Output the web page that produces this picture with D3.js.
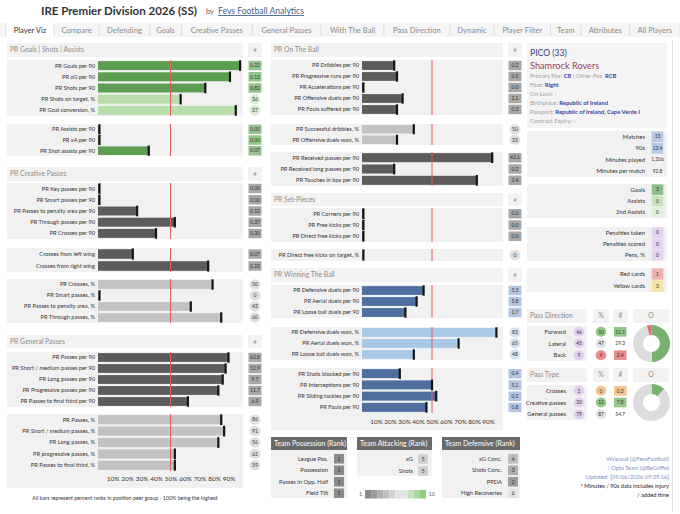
<!DOCTYPE html>
<html>
<head>
<meta charset="utf-8">
<style>
body { margin: 0; background: #fff; }
svg text { font-family: Lato, "Open Sans", sans-serif; }
</style>
</head>
<body>
<svg width="680" height="514"></svg>
<script src="https://cdnjs.cloudflare.com/ajax/libs/d3/7.8.5/d3.min.js"></script>
<script>

// ---- data ----
var tabs = ['Player Viz', 'Compare', 'Defending', 'Goals', 'Creative Passes', 'General Passes',
  'With The Ball', 'Pass Direction', 'Dynamic', 'Player Filter', 'Team', 'Attributes', 'All Players']

var gsaRows1 = ['PR Goals per 90', 'PR xG per 90', 'PR Shots per 90', 'PR Shots on target, %', 'PR Goal conversion, %']
var gsaPR1 = [98, 91, 74, 57, 95]
var gsaVal1 = ['0.22', '0.12', '0.82', '36', '27']
var gsaRows2 = ['PR Assists per 90', 'PR xA per 90', 'PR Shot assists per 90']
var gsaPR2 = [1, 1, 35]
var gsaVal2 = ['0.00', '0.00', '0.07']

var cpRows1 = ['PR Key passes per 90', 'PR Smart passes per 90', 'PR Passes to penalty area per 90', 'PR Through passes per 90', 'PR Crosses per 90']
var cpPR1 = [1, 1, 27, 53, 40]
var cpVal1 = ['0.00', '0.00', '0.52', '0.37', '0.30']
var cpRows2 = ['Crosses from left wing', 'Crosses from right wing']
var cpPR2 = [24, 76]
var cpVal2 = ['0.07', '0.22']
var cpRows3 = ['PR Crosses, %', 'PR Smart passes, %', 'PR Passes to penalty area, %', 'PR Through passes, %']
var cpPR3 = [79, 1, 64, 85]
var cpVal3 = ['50', '0', '43', '60']

var gpRows1 = ['PR Passes per 90', 'PR Short / medium passes per 90', 'PR Long passes per 90', 'PR Progressive passes per 90', 'PR Passes to final third per 90']
var gpPR1 = [90, 88, 86, 83, 62]
var gpVal1 = ['62.8', '52.9', '9.7', '11.7', '6.9']
var gpRows2 = ['PR Passes, %', 'PR Short / medium passes, %', 'PR Long passes, %', 'PR progressive passes, %', 'PR Passes to final third, %']
var gpPR2 = [85, 87, 83, 53, 53]
var gpVal2 = ['86', '91', '56', '62', '59']

var otbRows1 = ['PR Dribbles per 90', 'PR Progressive runs per 90', 'PR Accelerations per 90', 'PR Offensive duels per 90', 'PR Fouls suffered per 90']
var otbPR1 = [23, 25, 1, 29, 25]
var otbVal1 = ['0.2', '0.5', '0.0', '1.1', '0.3']
var otbRows2 = ['PR Successful dribbles, %', 'PR Offensive duels won, %']
var otbPR2 = [37, 25]
var otbVal2 = ['50', '33']
var otbRows3 = ['PR Received passes per 90', 'PR Received long passes per 90', 'PR Touches in box per 90']
var otbPR3 = [93, 23, 82]
var otbVal3 = ['42.1', '0.2', '1.4']

var spRows1 = ['PR Corners per 90', 'PR Free kicks per 90', 'PR Direct free kicks per 90']
var spPR1 = [1, 1, 1]
var spVal1 = ['0.0', '0.0', '0.0']
var spRows2 = ['PR Direct free kicks on target, %']
var spPR2 = [1]
var spVal2 = ['0']

var wtbRows1 = ['PR Defensive duels per 90', 'PR Aerial duels per 90', 'PR Loose ball duels per 90']
var wtbPR1 = [44, 39, 31]
var wtbVal1 = ['5.3', '5.8', '1.7']
var wtbRows2 = ['PR Defensive duels won, %', 'PR Aerial duels won, %', 'PR Loose ball duels won, %']
var wtbPR2 = [96, 69, 37]
var wtbVal2 = ['83', '65', '48']
var wtbRows3 = ['PR Shots blocked per 90', 'PR Interceptions per 90', 'PR Sliding tackles per 90', 'PR Fouls per 90']
var wtbPR3 = [27, 50, 53, 46]
var wtbVal3 = ['0.4', '5.1', '0.2', '0.8']

var axisTicks = [10, 20, 30, 40, 50, 60, 70, 80, 90]

var possLabels = ['League Pos.', 'Possession', 'Passes in Opp. Half', 'Field Tilt']
var possRank = [1, 1, 1, 1]
var attLabels = ['xG', 'Shots']
var attRank = [5, 5]
var defLabels = ['xG Conc.', 'Shots Conc.', 'PPDA', 'High Recoveries']
var defRank = [4, 3, 2, 6]

var statLabels = ['Matches', '90s', 'Minutes played', 'Minutes per match']
var statVals = ['13', '13.4', '1,206', '92.8']
var goalLabels = ['Goals', 'Assists', '2nd Assists']
var goalVals = ['3', '0', '0']
var penLabels = ['Penalties taken', 'Penalties scored', 'Pens, %']
var penVals = ['0', '0', '0']
var cardLabels = ['Red cards', 'Yellow cards']
var cardVals = ['1', '3']

var dirLabels = ['Forward', 'Lateral', 'Back']
var dirCount = [46, 45, 9]
var dirPct = [50, 47, 4]
var dirNum = ['31.1', '29.3', '2.4']
var typeLabels = ['Crosses', 'Creative passes', 'General passes']
var typeCount = [2, 20, 79]
var typePct = [0, 12, 87]
var typeNum = ['0.3', '7.8', '54.7']

// ---- colours ----
var green = { bar: '#5d9d52', barPct: '#b9dcab', val: '#93c58a', valPct: '#d6ebcf' }
var grey = { bar: '#5c5c5c', barPct: '#c2c2c2', val: '#a8a8a8', valPct: '#dfdfdf' }
var blue = { bar: '#4e6ea0', barPct: '#a8c8e8', val: '#b3c5e2', valPct: '#d4e1f2' }
var panelBg = '#f1f1f1'

var svg = d3.select('svg')

function txt(x, y, s, size, fill, anchor, weight) {
  return svg.append('text')
    .attr('x', x).attr('y', y).attr('dy', '0.35em')
    .attr('font-size', size).attr('fill', fill || '#333')
    .attr('text-anchor', anchor || 'start')
    .attr('font-weight', weight || 'normal')
    .text(s)
}

// ---- title + tabs ----
txt(41, 11, 'IRE Premier Division 2026 (SS)', 11.5, '#333', 'start', 'bold')
txt(206, 11.5, 'by', 7.5, '#666')
txt(218, 11, 'Fevs Football Analytics', 8.6, '#3d5f8f').attr('text-decoration', 'underline')

var tabG = svg.append('g')
tabG.append('rect').attr('x', 0).attr('y', 23).attr('width', 680).attr('height', 14).attr('fill', '#f5f5f5')
var tabTexts = tabG.selectAll('text').data(tabs).join('text')
  .attr('font-size', 7.6).attr('dy', '0.35em').attr('y', 30)
  .attr('text-anchor', 'middle')
  .attr('fill', function (d, i) { return i === 0 ? '#333' : '#8a8a8a' })
  .text(function (d) { return d })
var tabW = []
tabTexts.each(function () { tabW.push(this.getComputedTextLength() + 8) })
var tabScale = (680 - 6) / d3.sum(tabW)
var tx = 6
tabTexts.each(function (d, i) {
  var w = tabW[i] * tabScale
  if (i === 0) tabG.insert('rect', 'text').attr('x', tx).attr('y', 23).attr('width', w).attr('height', 15).attr('fill', '#fff')
  tabG.insert('line', 'text').attr('x1', tx + w).attr('x2', tx + w).attr('y1', 24).attr('y2', 36).attr('stroke', '#dcdcdc')
  d3.select(this).attr('x', tx + w / 2)
  tx += w
})
tabG.append('line').attr('x1', 6).attr('x2', 6).attr('y1', 24).attr('y2', 36).attr('stroke', '#dcdcdc')

// ---- bar panels ----
var L = { x0: 7, x1: 243, x: d3.scaleLinear().domain([0, 100]).range([98, 243]), vx: 255 }
var M = { x0: 271, x1: 503, x: d3.scaleLinear().domain([0, 100]).range([362, 502]), vx: 515 }

function header(p, top, bottom, title) {
  svg.append('rect').attr('x', p.x0).attr('y', top).attr('width', p.x1 - p.x0).attr('height', bottom - top).attr('fill', '#f2f2f2')
  txt(p.x0 + 3, (top + bottom) / 2, title, 6.8, '#8c8c8c')
  svg.append('rect').attr('x', p.vx - 7).attr('y', top).attr('width', 14).attr('height', bottom - top).attr('fill', '#f2f2f2')
  txt(p.vx, (top + bottom) / 2, '#', 6, '#999', 'middle')
}

function isPct(label) { return label.indexOf('%') > -1 }

function group(p, top, bottom, rows, pr, vals, pal, rowsBottom) {
  var end = rowsBottom || bottom
  var y = d3.scaleBand().domain(rows).range([top, end]).paddingInner(0.2).paddingOuter(0.1)
  var data = rows.map(function (r, i) { return { label: r, pr: pr[i], val: vals[i] } })
  var g = svg.append('g')
  g.append('rect').attr('x', p.x0).attr('y', top).attr('width', p.x1 - p.x0).attr('height', bottom - top).attr('fill', panelBg)
  g.selectAll('.bar').data(data).join('rect').attr('class', 'bar')
    .attr('x', p.x(0)).attr('y', function (d) { return y(d.label) })
    .attr('width', function (d) { return p.x(d.pr) - p.x(0) })
    .attr('height', y.bandwidth())
    .attr('fill', function (d) { return isPct(d.label) ? pal.barPct : pal.bar })
  g.append('line').attr('x1', p.x(50)).attr('x2', p.x(50)).attr('y1', top).attr('y2', end)
    .attr('stroke', '#e0625f').attr('stroke-width', 1)
  g.selectAll('.end').data(data).join('rect').attr('class', 'end')
    .attr('x', function (d) { return p.x(d.pr) - 1.1 }).attr('y', function (d) { return y(d.label) - 0.8 })
    .attr('width', 2.2).attr('height', y.bandwidth() + 1.6).attr('fill', '#151515')
  g.selectAll('.lab').data(data).join('text').attr('class', 'lab')
    .attr('x', p.x(0) - 3).attr('y', function (d) { return y(d.label) + y.bandwidth() / 2 })
    .attr('dy', '0.35em').attr('text-anchor', 'end').attr('font-size', 5.7).attr('fill', '#333')
    .text(function (d) { return d.label })
  g.selectAll('.vbox').data(data).join('rect').attr('class', 'vbox')
    .attr('x', function (d) { return isPct(d.label) ? p.vx - 5.5 : p.vx - 6.5 })
    .attr('y', function (d) { return y(d.label) + y.bandwidth() / 2 - (isPct(d.label) ? 5 : 4.75) })
    .attr('width', function (d) { return isPct(d.label) ? 11 : 13 })
    .attr('height', function (d) { return isPct(d.label) ? 10 : 9.5 })
    .attr('rx', function (d) { return isPct(d.label) ? 5 : 0.5 })
    .attr('fill', function (d) { return isPct(d.label) ? pal.valPct : pal.val })
  g.selectAll('.vtxt').data(data).join('text').attr('class', 'vtxt')
    .attr('x', p.vx).attr('y', function (d) { return y(d.label) + y.bandwidth() / 2 })
    .attr('dy', '0.35em').attr('text-anchor', 'middle').attr('font-size', 5)
    .attr('fill', '#333').text(function (d) { return d.val })
}

function axis(p, y) {
  svg.append('g').attr('transform', 'translate(0,' + y + ')')
    .call(d3.axisBottom(p.x).tickValues(axisTicks).tickSize(0).tickFormat(function (d) { return d + '%' }))
    .call(function (g) { g.select('.domain').remove() })
    .selectAll('text').attr('font-size', 6.4).attr('fill', '#333').attr('font-family', 'Lato, sans-serif')
}

header(L, 43, 57, 'PR Goals | Shots | Assists')
group(L, 60, 116, gsaRows1, gsaPR1, gsaVal1, green)
group(L, 124, 156, gsaRows2, gsaPR2, gsaVal2, green)

header(L, 167, 181, 'PR Creative Passes')
group(L, 183, 239, cpRows1, cpPR1, cpVal1, grey)
group(L, 248, 272, cpRows2, cpPR2, cpVal2, grey)
group(L, 279, 323, cpRows3, cpPR3, cpVal3, grey)

header(L, 335, 348, 'PR General Passes')
group(L, 352, 407, gpRows1, gpPR1, gpVal1, grey)
group(L, 414, 488, gpRows2, gpPR2, gpVal2, grey, 471)
axis(L, 473.5)
txt(125, 498, 'All bars represent percent ranks in position peer group - 100% being the highest', 5.3, '#333', 'middle')

header(M, 43, 57, 'PR On The Ball')
group(M, 60, 115, otbRows1, otbPR1, otbVal1, grey)
group(M, 124, 145, otbRows2, otbPR2, otbVal2, grey)
group(M, 152, 186, otbRows3, otbPR3, otbVal3, grey)

header(M, 193, 206, 'PR Set-Pieces')
group(M, 208, 242, spRows1, spPR1, spVal1, grey)
group(M, 249, 261, spRows2, spPR2, spVal2, grey)

header(M, 268, 282, 'PR Winning The Ball')
group(M, 285, 318, wtbRows1, wtbPR1, wtbVal1, blue)
group(M, 327, 360, wtbRows2, wtbPR2, wtbVal2, blue)
group(M, 368, 430, wtbRows3, wtbPR3, wtbVal3, blue, 413)
axis(M, 416.5)

// ---- team ranks ----
var rankColor = d3.scaleLinear().domain([1, 6.5, 10]).range(['#8a8a8a', '#ececec', '#8fcd80'])

function rankBox(x0, x1, bodyBottom, title, labels, ranks, labelX, boxX) {
  svg.append('rect').attr('x', x0).attr('y', 437).attr('width', x1 - x0).attr('height', 13).attr('fill', '#6a6a6a')
  txt(x0 + 3, 443.5, title, 7, '#fff')
  svg.append('rect').attr('x', x0).attr('y', 450).attr('width', x1 - x0).attr('height', bodyBottom - 450).attr('fill', panelBg)
  var y = d3.scaleBand().domain(labels).range([453, bodyBottom + 1])
  labels.forEach(function (l, i) {
    var cy = y(l) + y.bandwidth() / 2
    txt(labelX, cy, l, 5.8, '#333', 'end')
    svg.append('rect').attr('x', boxX - 5).attr('y', cy - 4.8).attr('width', 10).attr('height', 9.6).attr('fill', rankColor(ranks[i]))
    txt(boxX, cy, ranks[i], 5.5, '#333', 'middle')
  })
}
rankBox(271, 347, 498, 'Team Possession (Rank)', possLabels, possRank, 328, 339)
rankBox(357, 432, 476, 'Team Attacking (Rank)', attLabels, attRank, 413, 423)
rankBox(442, 520, 498, 'Team Defensive (Rank)', defLabels, defRank, 502, 513)

var legendSteps = d3.range(1, 11)
var lx = d3.scaleBand().domain(legendSteps).range([365, 426])
svg.selectAll('.leg').data(legendSteps).join('rect').attr('class', 'leg')
  .attr('x', function (d) { return lx(d) }).attr('y', 490).attr('width', lx.bandwidth()).attr('height', 8.5)
  .attr('fill', function (d) { return rankColor(d) })
txt(360.5, 494, '1', 5.5, '#666', 'middle')
txt(428.5, 494, '10', 5.5, '#666', 'start')

// ---- right: profile ----
svg.append('rect').attr('x', 527).attr('y', 43).attr('width', 140).attr('height', 85).attr('fill', '#f4f4f4')
txt(530, 53, 'PICO (33)', 8.6, '#34407d')
txt(530, 65.3, 'Shamrock Rovers', 9.2, '#a0405c')
var profile = [
  [['Primary Pos: ', 'CB'], [' | ', null], ['Other Pos: ', 'RCB']],
  [['Foot: ', 'Right']],
  [['On Loan: ', '-']],
  [['Birthplace: ', 'Republic of Ireland']],
  [['Passport: ', 'Republic of Ireland, Cape Verde I']],
  [['Contract Expiry: ', '-']]
]
var profY = d3.scalePoint().domain(d3.range(profile.length)).range([75.7, 121.3])
profile.forEach(function (line, i) {
  var t = txt(530, profY(i), '', 5.9, '#a3a3a3')
  line.forEach(function (part) {
    t.append('tspan').attr('fill', '#a3a3a3').text(part[0])
    if (part[1]) t.append('tspan').attr('fill', part[1] === '-' ? '#888' : '#3c43a3').attr('font-weight', part[1] === '-' ? 'normal' : 'bold').text(part[1])
  })
})

function statBlock(top, bottom, labels, vals, colors) {
  svg.append('rect').attr('x', 527).attr('y', top).attr('width', 140).attr('height', bottom - top).attr('fill', panelBg)
  var y = d3.scaleBand().domain(labels).range([top, bottom])
  labels.forEach(function (l, i) {
    var cy = y(l) + y.bandwidth() / 2
    txt(645, cy, l, 5.9, '#333', 'end')
    if (colors[i]) svg.append('rect').attr('x', 651.7).attr('y', y(l) + 0.4).attr('width', 11.6).attr('height', y.bandwidth() - 0.8).attr('fill', colors[i])
    txt(657.5, cy, vals[i], 4.9, '#333', 'middle')
  })
}
statBlock(131, 177, statLabels, statVals, ['#b7c8e0', '#b7c8e0', null, null])
statBlock(184, 218, goalLabels, goalVals, ['#8cbb8a', '#c6e3bc', '#e0f0d9'])
statBlock(227, 261, penLabels, penVals, ['#e4d4ee', '#e4d4ee', '#e4d4ee'])
statBlock(268, 292, cardLabels, cardVals, ['#efb1b1', '#f6e4a2'])

// ---- right: pass direction / type ----
function passBlock(hTop, title, labels, count, pct, num, pctColors, sliceColors) {
  var hB = hTop + 14
  ;[[527, 587, title, 'start'], [593, 609, '%', 'middle'], [613, 628, '#', 'middle'], [633, 669, 'O', 'middle']].forEach(function (h) {
    svg.append('rect').attr('x', h[0]).attr('y', hTop).attr('width', h[1] - h[0]).attr('height', 14).attr('fill', '#f2f2f2')
    txt(h[3] === 'start' ? h[0] + 3 : (h[0] + h[1]) / 2, hTop + 7, h[2], 6.8, '#8c8c8c', h[3])
  })
  var top = hB + 3, bottom = top + 35
  svg.append('rect').attr('x', 527).attr('y', top).attr('width', 60).attr('height', bottom - top).attr('fill', panelBg)
  var y = d3.scaleBand().domain(labels).range([top, bottom])
  labels.forEach(function (l, i) {
    var cy = y(l) + y.bandwidth() / 2
    txt(566, cy, l, 5.9, '#333', 'end')
    svg.append('ellipse').attr('cx', 579).attr('cy', cy).attr('rx', 5.3).attr('ry', 5).attr('fill', '#e3cff0')
    txt(579, cy, count[i], 4.9, '#333', 'middle')
    svg.append('ellipse').attr('cx', 601).attr('cy', cy).attr('rx', 5.3).attr('ry', 5).attr('fill', pctColors[i])
    txt(601, cy, pct[i], 4.9, '#333', 'middle')
    if (sliceColors[i] !== '#dcdcdc') svg.append('rect').attr('x', 614).attr('y', cy - 4.8).attr('width', 12.5).attr('height', 9.6).attr('fill', pctColors[i])
    txt(620.2, cy, num[i], 4.9, '#333', 'middle')
  })
  var pie = d3.pie().sort(null)
  var arc = d3.arc().innerRadius(8.5).outerRadius(18.5)
  svg.append('g').attr('transform', 'translate(651.5,' + ((top + bottom) / 2) + ')')
    .selectAll('path').data(pie(pct)).join('path')
    .attr('d', arc).attr('fill', function (d, i) { return sliceColors[i] })
}
passBlock(309, 'Pass Direction', dirLabels, dirCount, dirPct, dirNum,
  ['#92c789', '#e3e3e3', '#ec8c8c'], ['#79b26f', '#dcdcdc', '#e07070'])
passBlock(368, 'Pass Type', typeLabels, typeCount, typePct, typeNum,
  ['#f6c48c', '#92c789', '#e3e3e3'], ['#f0ad6a', '#79b26f', '#dcdcdc'])

// ---- credits ----
var credits = ['Wyscout (@FevsFootball)', '/ Opta Team (@BeGriffis)', 'Updated: [09/06/2026 09:39:16]',
  '* Minutes / 90s data includes injury', '/ added time']
credits.forEach(function (c, i) {
  txt(669, 459.3 + i * 9, c, 5.7, i < 3 ? '#7f8fc0' : '#222', 'end')
})

svg.append('line').attr('x1', 672.5).attr('x2', 672.5).attr('y1', 40).attr('y2', 512).attr('stroke', '#e0e0e0')

</script>
</body>
</html>
